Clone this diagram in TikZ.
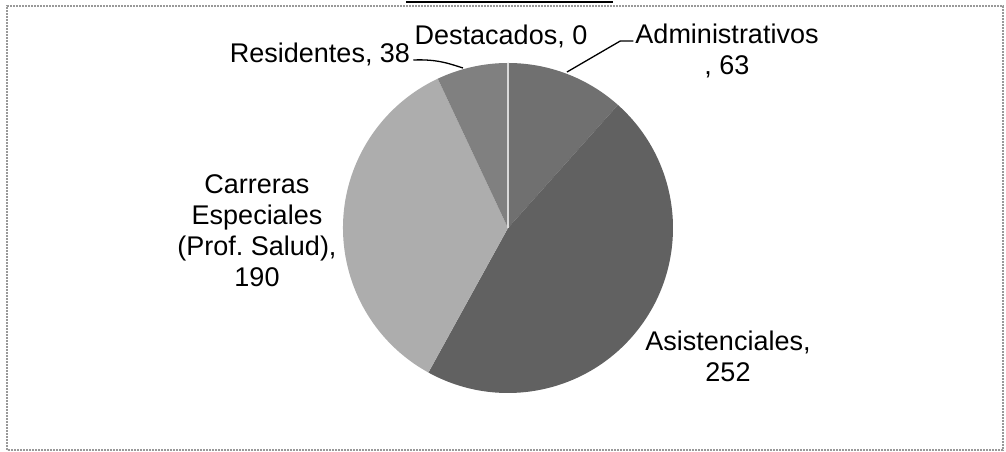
\documentclass[tikz,border=0pt]{standalone}
\usepackage{fontspec}
\setmainfont{Liberation Sans}
\usetikzlibrary{calc}
\definecolor{admc}{gray}{0.44}
\definecolor{asic}{gray}{0.38}
\definecolor{carc}{gray}{0.68}
\definecolor{resc}{gray}{0.50}
\definecolor{framec}{gray}{0.60}
\tikzset{
  lbl/.style={font=\fontsize{27}{31.3}\selectfont, inner sep=0pt, align=center, text=black},
  leader/.style={draw=black, line width=1.3pt}
}
\begin{document}
\begin{tikzpicture}[x=1pt,y=1pt]
\useasboundingbox (0,0) rectangle (1006,452);
% frame
\draw[framec, line width=1.2pt, dash pattern=on 2pt off 1pt] (7,2) rectangle (1003,446);
% cut title underline
\draw[black, line width=2.5pt] (406,450) -- (613,450);
% pie
\coordinate (c) at (508,224);
\def\R{165}
\fill[admc] (c) -- ++(90:\R) arc[start angle=90, end angle=48.23, radius=\R] -- cycle;
\fill[asic] (c) -- ++(48.23:\R) arc[start angle=48.23, end angle=-118.84, radius=\R] -- cycle;
\fill[carc] (c) -- ++(-118.84:\R) arc[start angle=-118.84, end angle=-244.81, radius=\R] -- cycle;
\fill[resc] (c) -- ++(115.19:\R) arc[start angle=115.19, end angle=90, radius=\R] -- cycle;
\coordinate (top) at ($(c)+(90:\R)$);
\draw[white!70!gray, line width=1.6pt] (c) -- (top);
% labels
\node[lbl, anchor=base] (res) at (320,389) {Residentes, 38};
\node[lbl, anchor=base] (des) at (501,407) {Destacados, 0};
\node[lbl, anchor=base] (adm) at (727,377) {Administrativos\\, 63};
\node[lbl, anchor=base] (car) at (257,165) {Carreras\\Especiales\\(Prof.\ Salud),\\190};
\node[lbl, anchor=base] (asi) at (728,70) {Asistenciales,\\252};
% leaders
\coordinate (resE) at (463,384);
\coordinate (admE) at (567,380);
\draw[leader] ([xshift=3pt,yshift=3pt]res.base east) .. controls (438,393) and (450,388) .. (resE);
\draw[leader] ([shift={(-2pt,34pt)}]adm.base west) -- ++(-13,0) -- (admE);
\end{tikzpicture}
\end{document}
